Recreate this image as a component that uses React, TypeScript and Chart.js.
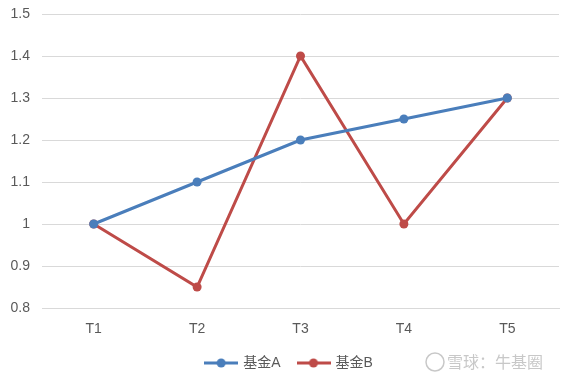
import React, { useEffect, useRef } from "react";
import { Chart, registerables } from "chart.js";

Chart.register(...registerables);

const categories = ["T1", "T2", "T3", "T4", "T5"];
const seriesNames = ["基金A", "基金B"];
const fundA = [1, 1.1, 1.2, 1.25, 1.3];
const fundB = [1, 0.85, 1.4, 1.0, 1.3];
const yTicks = [0.8, 0.9, 1, 1.1, 1.2, 1.3, 1.4, 1.5];
const watermark = "雪球：牛基圈";

const BLUE = "#4a7ebb";
const RED = "#be4b48";
const FONT = "'Liberation Sans', 'Noto Sans CJK SC', sans-serif";
const TEXT = "#595959";

function legendIcon(color: string): HTMLCanvasElement {
  const c = document.createElement("canvas");
  c.width = 34;
  c.height = 12;
  const ctx = c.getContext("2d")!;
  ctx.strokeStyle = color;
  ctx.lineWidth = 3;
  ctx.beginPath();
  ctx.moveTo(0, 6);
  ctx.lineTo(34, 6);
  ctx.stroke();
  ctx.fillStyle = color;
  ctx.beginPath();
  ctx.arc(17, 6, 4.5, 0, Math.PI * 2);
  ctx.fill();
  return c;
}

const watermarkPlugin = {
  id: "watermark",
  beforeDraw(chart: any) {
    const lg = chart.legend;
    if (lg && !lg._shifted) {
      const orig = lg.draw;
      lg.draw = function (...args: any[]) {
        this.ctx.save();
        this.ctx.translate(10, 0);
        orig.apply(this, args);
        this.ctx.restore();
      };
      lg._shifted = true;
    }
  },
  afterDraw(chart: any) {
    const ctx = chart.ctx;
    ctx.save();
    ctx.fillStyle = "#c8c8c8";
    ctx.font = `16px 'Noto Sans CJK SC', sans-serif`;
    ctx.textBaseline = "middle";
    ctx.textAlign = "left";
    ctx.strokeStyle = "#c8c8c8";
    ctx.lineWidth = 1.5;
    ctx.beginPath();
    ctx.arc(435, 362, 9, 0, Math.PI * 2);
    ctx.stroke();
    ctx.fillText(watermark, 447, 362);
    ctx.restore();
  },
};

export default function App() {
  const ref = useRef<HTMLCanvasElement>(null);
  useEffect(() => {
    document.body.style.margin = "0";
    const icons = [legendIcon(BLUE), legendIcon(RED)];
    const chart = new Chart(ref.current!, {
      type: "line",
      data: {
        labels: categories,
        datasets: [
          {
            label: seriesNames[0],
            data: fundA,
            borderColor: BLUE,
            backgroundColor: BLUE,
            borderWidth: 3,
            pointRadius: 4.5,
            pointBorderWidth: 0,
            tension: 0,
          },
          {
            label: seriesNames[1],
            data: fundB,
            borderColor: RED,
            backgroundColor: RED,
            borderWidth: 3,
            pointRadius: 4.5,
            pointBorderWidth: 0,
            tension: 0,
          },
        ],
      },
      options: {
        animation: false,
        responsive: false,
        devicePixelRatio: 1,
        layout: { padding: { top: 14, right: 10, left: 0, bottom: -3 } },
        plugins: {
          tooltip: { enabled: false },
          legend: {
            position: "bottom",
            labels: {
              usePointStyle: true,
              pointStyleWidth: 30,
              color: TEXT,
              font: { family: FONT, size: 14 },
              padding: 18,
              generateLabels: (chart: any) =>
                chart.data.datasets.map((ds: any, i: number) => ({
                  text: ds.label,
                  fillStyle: ds.borderColor,
                  strokeStyle: ds.borderColor,
                  lineWidth: 0,
                  pointStyle: icons[i],
                  datasetIndex: i,
                  fontColor: TEXT,
                  hidden: false,
                })),
            },
          },
        },
        scales: {
          x: {
            offset: true,
            grid: { display: false, drawTicks: false },
            border: { display: true, color: "#d9d9d9", width: 1 },
            ticks: {
              color: TEXT,
              font: { family: FONT, size: 14 },
              padding: 13,
            },
            afterFit: (scale: any) => {
              scale.height = 30;
            },
          },
          y: {
            min: 0.8,
            max: 1.5,
            afterBuildTicks: (scale: any) => {
              scale.ticks = yTicks.map((v) => ({ value: v }));
            },
            grid: { color: "#d9d9d9", drawTicks: false },
            border: { display: false },
            ticks: {
              color: TEXT,
              font: { family: FONT, size: 14 },
              padding: 12,
              callback: (v: any) => String(Math.round(Number(v) * 10) / 10),
            },
            afterFit: (scale: any) => {
              scale.width = 42;
              scale.paddingTop = 0;
              scale.paddingBottom = 0;
            },
          },
        },
      },
      plugins: [watermarkPlugin],
    });
    return () => chart.destroy();
  }, []);
  return <canvas ref={ref} width={569} height={377} style={{ display: "block" }} />;
}
